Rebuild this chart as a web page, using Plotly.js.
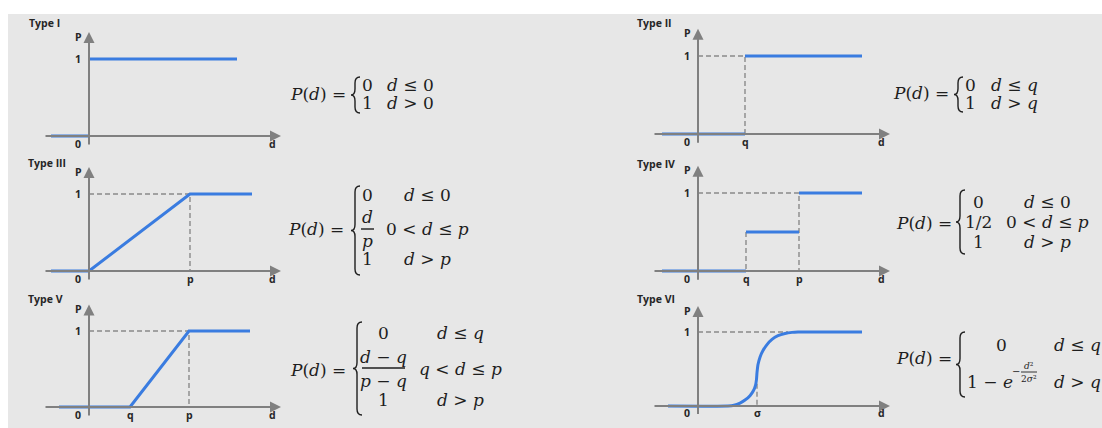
<!DOCTYPE html>
<html>
<head>
<meta charset="utf-8">
<script src="https://cdn.plot.ly/plotly-3.0.1.min.js"></script>
<style>
  html, body { margin: 0; padding: 0; background: #ffffff; }
  #chart { width: 1102px; height: 428px; }
</style>
</head>
<body>
<div id="chart"></div>
<script>
// ---- Probability-of-detection curves P(d), six model types ----
// Each curve is a list of (d, P) vertices; null breaks a step into pieces.

const panelNames = ['Type I', 'Type II', 'Type III', 'Type IV', 'Type V', 'Type VI'];

// Type I: step at d = 0
const typeI_d = [-0.38, 0, null, 0, 1.48];
const typeI_P = [0, 0, null, 1, 1];

// Type II: step at d = q
const typeII_q = 0.47;
const typeII_d = [-0.36, 0.47, null, 0.47, 1.64];
const typeII_P = [0, 0, null, 1, 1];
const typeII_guide_d = [0, 0.47, 0.47];
const typeII_guide_P = [1, 1, 0];

// Type III: linear ramp from 0 to p
const typeIII_p = 1.01;
const typeIII_d = [-0.38, 0, 1.01, 1.63];
const typeIII_P = [0, 0, 1, 1];
const typeIII_guide_d = [0, 1.01, 1.01];
const typeIII_guide_P = [1, 1, 0];

// Type IV: two steps, 1/2 at q and 1 at p
const typeIV_q = 0.48;
const typeIV_p = 1.01;
const typeIV_d = [-0.36, 0.48, null, 0.48, 1.01, null, 1.01, 1.64];
const typeIV_P = [0, 0, null, 0.5, 0.5, null, 1, 1];
const typeIV_guide_d = [0, 1.01, 1.01, null, 0.48, 0.48];
const typeIV_guide_P = [1, 1, 0, null, 0.5, 0];

// Type V: linear ramp from q to p
const typeV_q = 0.41;
const typeV_p = 1.0;
const typeV_d = [-0.30, 0.41, 1.0, 1.61];
const typeV_P = [0, 0, 1, 1];
const typeV_guide_d = [0, 1.0, 1.0];
const typeV_guide_P = [1, 1, 0];

// Type VI: smooth S-shaped rise around sigma
const typeVI_sigma = 0.59;
const typeVI_d = [-0.30, 0.30, 0.36, 0.42, 0.47, 0.52, 0.555, 0.575, 0.585, 0.59, 0.60, 0.62, 0.65, 0.69, 0.74, 0.80, 0.87, 0.94, 1.0, 1.64];
const typeVI_P = [0, 0, 0.01, 0.04, 0.08, 0.14, 0.21, 0.28, 0.36, 0.45, 0.56, 0.66, 0.75, 0.83, 0.90, 0.95, 0.98, 0.995, 1, 1];
const typeVI_guide_d = [0, 0.9, null, 0.59, 0.59];
const typeVI_guide_P = [1, 1, null, 0.3, 0];

// Tick letters under the d axis of each panel
const tickLabels = [
  [],
  [{t: 'q', d: typeII_q}],
  [{t: 'p', d: typeIII_p}],
  [{t: 'q', d: typeIV_q}, {t: 'p', d: typeIV_p}],
  [{t: 'q', d: typeV_q}, {t: 'p', d: typeV_p}],
  [{t: 'σ', d: typeVI_sigma}]
];

const curves = [
  {d: typeI_d, P: typeI_P, gd: null, gP: null},
  {d: typeII_d, P: typeII_P, gd: typeII_guide_d, gP: typeII_guide_P},
  {d: typeIII_d, P: typeIII_P, gd: typeIII_guide_d, gP: typeIII_guide_P},
  {d: typeIV_d, P: typeIV_P, gd: typeIV_guide_d, gP: typeIV_guide_P},
  {d: typeV_d, P: typeV_P, gd: typeV_guide_d, gP: typeV_guide_P},
  {d: typeVI_d, P: typeVI_P, gd: typeVI_guide_d, gP: typeVI_guide_P, smooth: true}
];

// ---- page geometry (pixels) ----
const W = 1102, H = 428;
const PX = x => x / W;
const PY = y => 1 - y / H;

// origin of each little coordinate system, and pixels per unit
const geom = [
  {ox: 89,  oy: 136, uy: 77, title: [27, 23]},
  {ox: 698, oy: 134, uy: 78, title: [635, 23]},
  {ox: 89,  oy: 271, uy: 77, title: [26, 163]},
  {ox: 698, oy: 271, uy: 78, title: [635, 164]},
  {ox: 89,  oy: 407, uy: 76, title: [26, 299]},
  {ox: 698, oy: 406, uy: 74, title: [635, 299]}
];
const UX = 100;

const BLUE = '#3a7ce0';
const AXIS = '#808080';
const GUIDE = '#8a8a8a';
const INK = '#1e1e1e';
const LABEL_FONT = {family: 'Open Sans, Liberation Sans, sans-serif', size: 10.5, color: '#262626'};
const MATH = 'DejaVu Serif, Liberation Serif, serif';
const MS = 17;

const traces = [];
const layout = {
  width: W, height: H,
  margin: {l: 0, r: 0, t: 0, b: 0},
  paper_bgcolor: '#ffffff',
  plot_bgcolor: 'rgba(0,0,0,0)',
  showlegend: false,
  shapes: [
    {type: 'rect', xref: 'paper', yref: 'paper', x0: PX(8), x1: 1, y0: 0, y1: PY(14),
     fillcolor: '#e7e7e7', line: {width: 0}, layer: 'below'}
  ],
  annotations: []
};

geom.forEach((g, i) => {
  const n = i + 1;
  const xk = n === 1 ? 'xaxis' : 'xaxis' + n;
  const yk = n === 1 ? 'yaxis' : 'yaxis' + n;
  const xr = n === 1 ? 'x' : 'x' + n;
  const yr = n === 1 ? 'y' : 'y' + n;
  const left = g.ox - 60, right = g.ox + 200, top = g.oy - 115, bottom = g.oy + 18;
  layout[xk] = {domain: [PX(left), PX(right)], range: [(left - g.ox) / UX, (right - g.ox) / UX],
                visible: false, fixedrange: true, anchor: yr};
  layout[yk] = {domain: [PY(bottom), PY(top)], range: [(g.oy - bottom) / g.uy, (g.oy - top) / g.uy],
                visible: false, fixedrange: true, anchor: xr};

  const c = curves[i];
  if (c.gd) {
    traces.push({x: c.gd, y: c.gP, xaxis: xr, yaxis: yr, mode: 'lines', hoverinfo: 'skip',
                 line: {color: GUIDE, width: 1.4, dash: '5px,3px'}, cliponaxis: false});
  }
  traces.push({x: c.d, y: c.P, xaxis: xr, yaxis: yr, mode: 'lines', hoverinfo: 'skip',
               line: {color: BLUE, width: 3, shape: c.smooth ? 'spline' : 'linear', smoothing: 0.5},
               cliponaxis: false});

  // axes with arrowheads
  const arrow = (x, y, ax, ay) => ({xref: xr, yref: yr, axref: xr, ayref: yr, x, y, ax, ay,
    text: '', showarrow: true, arrowhead: 2, arrowsize: 1.1, arrowwidth: 2, arrowcolor: AXIS, standoff: 0});
  layout.annotations.push(arrow(1.92, 0, -0.45, 0));
  layout.annotations.push(arrow(0, 1.35, 0, -0.13));

  const lab = (x, y, t) => ({xref: xr, yref: yr, x, y, text: '<b>' + t + '</b>', showarrow: false,
    font: LABEL_FONT, xanchor: 'center', yanchor: 'middle'});
  layout.annotations.push(lab(-0.11, 1.29, 'P'));
  layout.annotations.push(lab(-0.11, 1.0, '1'));
  layout.annotations.push(lab(-0.11, -0.1, '0'));
  layout.annotations.push(lab(1.83, -0.1, 'd'));
  tickLabels[i].forEach(tk => layout.annotations.push(lab(tk.d, -0.1, tk.t)));

  layout.annotations.push({xref: 'paper', yref: 'paper', x: PX(g.title[0]), y: PY(g.title[1]),
    text: '<b>' + panelNames[i] + '</b>', showarrow: false, xanchor: 'left', yanchor: 'middle',
    font: {family: 'Open Sans, Liberation Sans, sans-serif', size: 10.5, color: '#262626'}});
});

// ---- formulas, placed in page pixels ----
function math(x, y, text, size, anchor) {
  layout.annotations.push({xref: 'paper', yref: 'paper', x: PX(x), y: PY(y), text,
    showarrow: false, xanchor: anchor || 'left', yanchor: 'middle', borderpad: 0,
    font: {family: MATH, size: size || MS, color: INK}});
}
function bar(x0, x1, y, w) {
  layout.shapes.push({type: 'line', xref: 'paper', yref: 'paper', x0: PX(x0), x1: PX(x1),
    y0: PY(y), y1: PY(y), line: {color: INK, width: w || 1.4}});
}
function brace(x, top, bottom) {
  const w = 6, r = 6, mid = (top + bottom) / 2;
  const p = (a, b) => PX(a).toFixed(5) + ',' + PY(b).toFixed(5);
  const path = 'M' + p(x + w, top) +
    ' Q' + p(x + 1, top) + ' ' + p(x + 1, top + r) +
    ' L' + p(x + 1, mid - r) +
    ' Q' + p(x + 1, mid) + ' ' + p(x - 3, mid) +
    ' Q' + p(x + 1, mid) + ' ' + p(x + 1, mid + r) +
    ' L' + p(x + 1, bottom - r) +
    ' Q' + p(x + 1, bottom) + ' ' + p(x + w, bottom);
  layout.shapes.push({type: 'path', xref: 'paper', yref: 'paper', path,
    line: {color: INK, width: 1.4}});
}
const Pd = '<i>P</i>(<i>d</i>) =';

// Type I
math(289, 94, Pd);
brace(354, 77, 113);
math(361, 85, '0'); math(361, 103, '1');
math(386, 85, '<i>d</i> ≤ 0'); math(386, 103, '<i>d</i> > 0');

// Type II
math(892, 93, Pd);
brace(957, 77, 112);
math(964, 85, '0'); math(964, 103, '1');
math(990, 85, '<i>d</i> ≤ <i>q</i>'); math(990, 103, '<i>d</i> > <i>q</i>');

// Type III
math(287, 229, Pd);
brace(354, 186, 275);
math(367, 195, '0', MS, 'center');
math(367, 217, '<i>d</i>', MS, 'center'); bar(361, 374, 229); math(367, 241, '<i>p</i>', MS, 'center');
math(367, 259, '1', MS, 'center');
math(428, 195, '<i>d</i> ≤ 0', MS, 'center');
math(428, 229, '0 < <i>d</i> ≤ <i>p</i>', MS, 'center');
math(428, 259, '<i>d</i> > <i>p</i>', MS, 'center');

// Type IV
math(895, 223, Pd);
brace(959, 190, 254);
math(978, 202, '0', MS, 'center'); math(978, 222, '1/2', MS, 'center'); math(978, 242, '1', MS, 'center');
math(1047, 202, '<i>d</i> ≤ 0', MS, 'center');
math(1047, 222, '0 < <i>d</i> ≤ <i>p</i>', MS, 'center');
math(1047, 242, '<i>d</i> > <i>p</i>', MS, 'center');

// Type V
math(289, 370, Pd);
brace(356, 322, 415);
math(383, 333, '0', MS, 'center');
math(383, 357, '<i>d</i> − <i>q</i>', MS, 'center'); bar(362, 405, 368); math(383, 381, '<i>p</i> − <i>q</i>', MS, 'center');
math(383, 400, '1', MS, 'center');
math(460, 333, '<i>d</i> ≤ <i>q</i>', MS, 'center');
math(460, 369, '<i>q</i> < <i>d</i> ≤ <i>p</i>', MS, 'center');
math(460, 400, '<i>d</i> > <i>p</i>', MS, 'center');

// Type VI
math(895, 358, Pd);
brace(959, 332, 397);
math(1001, 345, '0', MS, 'center');
math(966, 382, '1 − <i>e</i>');
math(1016, 371, '−', 10, 'center');
math(1029, 366, '<i>d</i>²', 9, 'center'); bar(1021, 1037, 372, 0.9); math(1029, 379, '2<i>σ</i>²', 9, 'center');
math(1053, 345, '<i>d</i> ≤ <i>q</i>');
math(1053, 382, '<i>d</i> > <i>q</i>');

Plotly.newPlot('chart', traces, layout, {staticPlot: true, displayModeBar: false});
</script>
</body>
</html>
